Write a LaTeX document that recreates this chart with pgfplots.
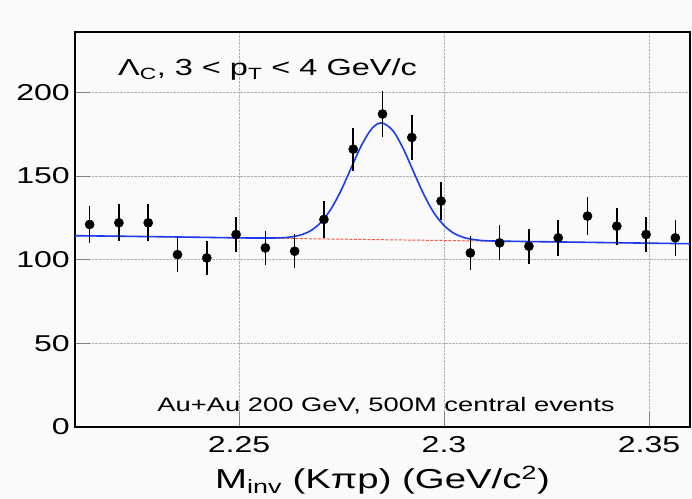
\documentclass[border=0pt]{standalone}
\usepackage{fontspec}
\setmainfont{Liberation Sans}[FakeStretch=1.4]
\usepackage{pgfplots}
\pgfplotsset{compat=1.18}
\usepackage{pgfplotstable}

\pgfplotstableread{
x y e
2.21357 121 11.0
2.22071 122 11.0
2.22786 122 11.0
2.23500 103 10.1
2.24214 101 10.0
2.24929 115 10.7
2.25643 107 10.3
2.26357 105 10.2
2.27071 124 11.1
2.27786 166 12.9
2.28500 187 13.7
2.29214 173 13.2
2.29929 135 11.6
2.30643 104 10.2
2.31357 110 10.5
2.32071 108 10.4
2.32786 113 10.6
2.33500 126 11.2
2.34214 120 11.0
2.34929 115 10.7
2.35643 113 10.6
}\datatable

\pgfplotstableread{
x y
2.2100 114.3
2.2300 113.7
2.2500 113.0
2.2550 112.9
2.2600 113.0
2.2625 113.5
2.2650 114.7
2.2675 117.3
2.2700 122.3
2.2725 130.5
2.2750 141.9
2.2775 155.6
2.2800 168.9
2.2825 178.6
2.2848 181.7
2.2875 177.2
2.2900 166.6
2.2925 152.9
2.2950 139.3
2.2975 128.1
2.3000 120.4
2.3025 115.6
2.3050 113.1
2.3075 111.9
2.3100 111.3
2.3150 111.0
2.3300 110.5
2.3600 109.5
}\fittable

\definecolor{fitblue}{RGB}{25,60,240}
\definecolor{bgred}{RGB}{245,90,70}

\begin{document}
\begin{tikzpicture}
\fill[black!2] (-75bp,-72bp) rectangle (617bp,427bp);
\path[use as bounding box] (-75bp,-72bp) rectangle (617bp,427bp);
\begin{axis}[
  at={(0,0)}, anchor=south west,
  scale only axis, width=615bp, height=395bp,
  xmin=2.21, xmax=2.36, ymin=0, ymax=236,
  xtick={2.25,2.3,2.35}, xticklabels={2.25,2.3,2.35},
  ytick={0,50,100,150,200},
  tick pos=left, tick align=inside,
  major tick length=15bp,
  minor tick num=0,
  tick style={gray, line width=0.8bp},
  grid=major,
  grid style={densely dotted, gray!60, line width=0.6bp},
  axis line style={line width=1.6bp},
  /pgf/number format/assume math mode=true,
  ticklabel style={font=\fontsize{23}{23}\selectfont},
  y tick label style={anchor=east, inner sep=0pt, xshift=-5bp},
  x tick label style={anchor=north, inner sep=0pt, yshift=-9bp},
  xlabel={M\textsubscript{inv} (Kπp) (GeV/c\textsuperscript{2})},
  xlabel style={font=\fontsize{27.5}{28}\selectfont, at={(rel axis cs:0.5,0)}, anchor=base, yshift=-61bp, inner sep=0pt},
]
\addplot[bgred, line width=1bp, dash pattern=on 3bp off 1.5bp] coordinates {(2.21,114.3) (2.36,109.5)};
\addplot[fitblue, line width=1.6bp, smooth, tension=0.5] table[x=x,y=y] {\fittable};
\addplot[black, only marks, mark=*, mark size=4.6bp,
  error bars/.cd, y dir=both, y explicit, error mark=none,
  error bar style={line width=1.5bp, black}]
  table[x=x, y=y, y error=e] {\datatable};
\node[anchor=base west, inner sep=0pt, font=\fontsize{23.3}{24}\selectfont] at (rel axis cs:0.0699,0.889) {Λ\textsubscript{C}, 3 < p\textsubscript{T} < 4 GeV/c};
\node[anchor=base west, inner sep=0pt, font=\fontsize{19.6}{20}\selectfont] at (rel axis cs:0.1338,0.0405) {Au+Au 200 GeV, 500M central events};
\end{axis}
\end{tikzpicture}
\end{document}
